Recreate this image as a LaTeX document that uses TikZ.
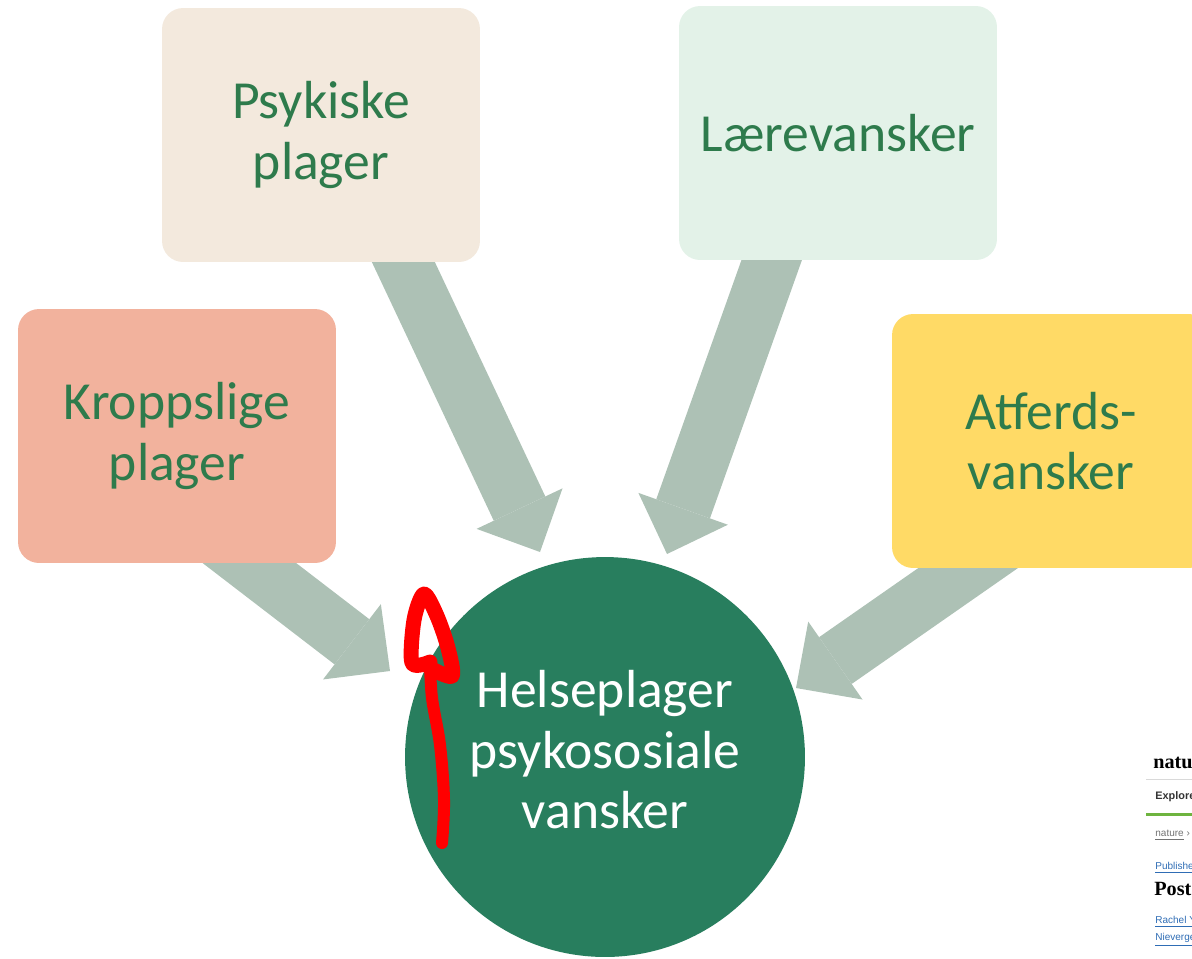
\documentclass[tikz,border=0pt]{standalone}
\usepackage{fontspec}
\setmainfont{Carlito}
\newfontfamily\natserif{Liberation Serif}
\newfontfamily\natsans{Liberation Sans}
\usetikzlibrary{calc}
\usetikzlibrary{arrows.meta}
\usetikzlibrary{backgrounds}

\definecolor{kroppfill}{HTML}{F2B29D}
\definecolor{psykfill}{HTML}{F3E9DD}
\definecolor{laerefill}{HTML}{E3F2E8}
\definecolor{atferdfill}{HTML}{FFDA66}
\definecolor{boxtext}{HTML}{2E7B4C}
\definecolor{helsefill}{HTML}{287E5E}
\definecolor{pilfill}{HTML}{ADC1B5}
\definecolor{natblue}{HTML}{2F6DB5}
\definecolor{natgreen}{HTML}{6EB43F}

\begin{document}
\begin{tikzpicture}[x=0.02cm, y=-0.02cm,
        boks/.style={rounded corners=0.42cm, minimum width=6.36cm, minimum height=5.08cm, inner sep=0pt, align=center, text=boxtext, font=\fontsize{30.5}{34.5}\selectfont},
        pil/.style={pilfill, line width=1.14cm, -{Triangle[width=1.9cm, length=0.96cm, line width=0pt]}},
        natlink/.style={anchor=west, inner sep=0pt, text=natblue, font=\natsans\fontsize{5.7}{6}\selectfont}]
        \useasboundingbox (0,0) rectangle (1192,958);
        \clip (0,0) rectangle (1192,958);
        \node [boks, fill=kroppfill] (kropp) at (177,436) {Kroppslige\\plager};
        \node [boks, fill=psykfill] (psyk) at (321,135) {Psykiske\\plager};
        \node [boks, fill=laerefill] (laere) at (838,133) {Lærevansker};
        \node [boks, fill=atferdfill] (atferd) at (1051,441) {Atferds-\\vansker};
        \node [circle, fill=helsefill, minimum size=8cm, inner sep=0pt, text depth=0.3cm, align=center, text=white, font=\fontsize{30.5}{34.5}\selectfont] (helse) at (605,757) {Helseplager\\psykososiale\\vansker};
        \begin{pgfonlayer}{background}
            \draw [pil] ($(kropp.south)+(35,-29)$) -- ($(helse.center)+(-215,-86)$);
            \draw [pil] ($(psyk.south)+(74,-18)$) -- ($(helse.center)+(-65,-205)$);
            \draw [pil] ($(laere.south)+(-60,-18)$) -- ($(helse.center)+(62,-203)$);
            \draw [pil] ($(atferd.south)+(-46,-26)$) -- ($(helse.center)+(191,-69)$);
        \end{pgfonlayer}
        \draw [red, line width=0.24cm, line cap=round, line join=round] plot [smooth, tension=0.6] coordinates {(442,843) (444,800) (440,745) (432,698) (430,662)};
        \draw [red, line width=0.3cm, line cap=round, line join=round] plot [smooth, tension=0.5] coordinates {(430,668) (452,676) (448,648) (437,616) (424,594) (414,620) (412,663) (430,662)};
        \node [anchor=west, inner sep=0pt, font=\natserif\bfseries\fontsize{11.5}{12}\selectfont] (natlogo) at (1153,763) {natu};
        \draw [black!15, line width=0.02cm] (1146,779) -- (1192,779);
        \node [anchor=west, inner sep=0pt, text=black!80, font=\natsans\bfseries\fontsize{6.2}{7}\selectfont] (natexplore) at (1155,797) {Explore};
        \draw [natgreen, line width=0.06cm] (1146,814) -- (1192,814);
        \node [natlink, text=black!55] (natcrumb) at (1155,835) {\underline{nature} ›};
        \node [natlink] (natpub) at (1155,868) {\underline{Publishe}};
        \node [anchor=west, inner sep=0pt, font=\natserif\bfseries\fontsize{11.5}{12}\selectfont] (natpost) at (1154,889) {Post};
        \node [natlink] (natrachel) at (1155,922) {\underline{Rachel Y}};
        \node [natlink] (natniev) at (1155,940) {\underline{Nieverge}};
    \end{tikzpicture}
\end{document}
